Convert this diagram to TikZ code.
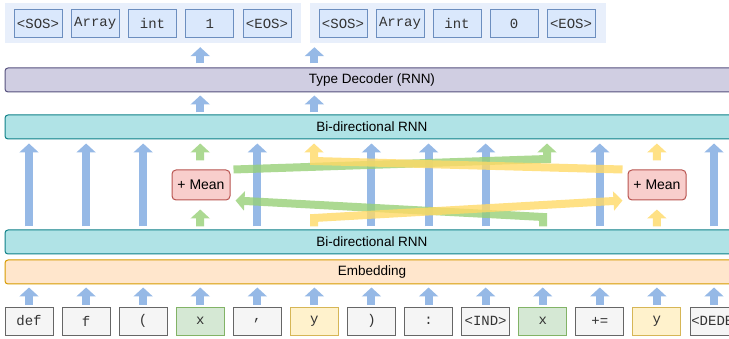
\documentclass[tikz,border=0pt]{standalone}
\usepackage{fontspec}
\setmainfont{Liberation Sans}
\newfontfamily\tokfamily{Liberation Mono}
\usetikzlibrary{arrows.meta}
\definecolor{ArrowBlue}{RGB}{150, 185, 230}
\definecolor{ArrowGreen}{RGB}{151, 208, 119}
\definecolor{ArrowYellow}{RGB}{255, 217, 102}
\definecolor{DecFill}{RGB}{208, 206, 226}
\definecolor{DecLine}{RGB}{86, 81, 126}
\definecolor{RnnFill}{RGB}{176, 227, 230}
\definecolor{RnnLine}{RGB}{14, 128, 136}
\definecolor{EmbFill}{RGB}{255, 230, 204}
\definecolor{EmbLine}{RGB}{215, 155, 0}
\definecolor{MeanFill}{RGB}{248, 206, 204}
\definecolor{MeanLine}{RGB}{184, 84, 80}
\definecolor{GrayFill}{RGB}{245, 245, 245}
\definecolor{GrayLine}{RGB}{102, 102, 102}
\definecolor{GreenFill}{RGB}{213, 232, 212}
\definecolor{GreenLine}{RGB}{130, 179, 102}
\definecolor{YelFill}{RGB}{255, 242, 204}
\definecolor{YelLine}{RGB}{214, 182, 86}
\definecolor{OutFill}{RGB}{218, 232, 252}
\definecolor{OutLine}{RGB}{108, 142, 191}
\definecolor{OutBack}{RGB}{232, 239, 251}
\tikzset{
	layer/.style={draw, line width=1pt, rounded corners=3pt, minimum width=734pt, minimum height=24pt, inner sep=0pt, font=\fontsize{13.5}{16}\selectfont},
	tokfont/.style={font=\tokfamily\fontsize{14}{16}\selectfont, text=black!80},
	tokbox/.style={draw, line width=0.8pt, minimum width=48pt, minimum height=28pt, inner sep=0pt, tokfont},
	tokgray/.style={tokbox, fill=GrayFill, draw=GrayLine},
	tokgreen/.style={tokbox, fill=GreenFill, draw=GreenLine},
	tokyel/.style={tokbox, fill=YelFill, draw=YelLine},
	outbox/.style={tokbox, fill=OutFill, draw=OutLine},
	outback/.style={fill=OutBack, minimum width=296pt, minimum height=40pt, inner sep=0pt},
	meanbox/.style={draw=MeanLine, fill=MeanFill, line width=1pt, rounded corners=4pt, minimum width=58pt, minimum height=30pt, inner sep=0pt, font=\fontsize{14}{16}\selectfont},
	fat/.style={line width=8pt, -{Triangle[width=19pt, length=9pt]}},
}

\begin{document}
\begin{tikzpicture}[x=1pt, y=-1pt]
	\useasboundingbox (0, 0) rectangle (729, 339);
	\clip (0, 0) rectangle (729, 339);

	\node[outback] (outA) at (153, 23) {};
	\node[outback] (outB) at (458, 23) {};
	\foreach \txt [count=\i] in {<SOS>, Array, int, 1, <EOS>}
		\node[outbox] (oa\i) at ({38+57.25*(\i-1)}, 23.5) {\txt};
	\foreach \txt [count=\i] in {<SOS>, Array, int, 0, <EOS>}
		\node[outbox] (ob\i) at ({343+57*(\i-1)}, 23.5) {\txt};

	\node[layer, fill=DecFill, draw=DecLine] (dec) at (372, 80) {Type Decoder (RNN)};
	\node[layer, fill=RnnFill, draw=RnnLine] (rnnB) at (372, 127) {Bi-directional RNN};
	\node[layer, fill=RnnFill, draw=RnnLine] (rnnA) at (372, 242) {Bi-directional RNN};
	\node[layer, fill=EmbFill, draw=EmbLine] (emb) at (372, 272) {Embedding};

	\foreach \txt/\sty [count=\i] in {def/tokgray, f/tokgray, {(}/tokgray, x/tokgreen, {,}/tokgray, y/tokyel, {)}/tokgray, :/tokgray, <IND>/tokgray, x/tokgreen, +=/tokgray, y/tokyel}
		\node[\sty] (t\i) at ({29+57.08*(\i-1)}, 321) {\txt};
	\node[tokgray] (t13) at (714, 321) {};
	\node[tokfont, anchor=west, inner sep=1.5pt] (t13txt) at (t13.west) {<DEDENT>};

	\node[meanbox] (meanL) at (201, 185) {+ Mean};
	\node[meanbox] (meanR) at (657, 185) {+ Mean};

	\foreach \i in {1,...,13}
		\draw[fat, ArrowBlue, shorten <=2pt, shorten >=3pt] (t\i.north) -- (t\i.north |- emb.south);
	\foreach \i in {1, 2, 3, 5, 7, 8, 9, 11, 13}
		\draw[fat, ArrowBlue, shorten <=3pt, shorten >=4pt] (t\i |- rnnA.north) -- (t\i |- rnnB.south);
	\draw[fat, ArrowBlue, shorten <=2pt, shorten >=3pt] (t4 |- rnnB.north) -- (t4 |- dec.south);
	\draw[fat, ArrowBlue, shorten <=2pt, shorten >=3pt] (t6 |- rnnB.north) -- (t6 |- dec.south);
	\draw[fat, ArrowBlue, shorten <=4pt, shorten >=4pt] (t4 |- dec.north) -- (t4 |- outA.south);
	\draw[fat, ArrowBlue, shorten <=4pt, shorten >=4pt] (t6 |- dec.north) -- (t6 |- outB.south);

	\coordinate (gTop) at (547, 159);
	\coordinate (gBot) at (543, 217);
	\coordinate (yTop) at (314, 161);
	\coordinate (yBot) at (314, 218);

	\begin{scope}[transparency group, opacity=0.8]
		\draw[fat, ArrowGreen, shorten <=3pt, shorten >=9pt] (t4 |- rnnA.north) -- (t4 |- meanL.south);
		\draw[fat, ArrowGreen, shorten <=9pt, shorten >=4pt] (t4 |- meanL.north) -- (t4 |- rnnB.south);
		\draw[fat, ArrowGreen, shorten >=4pt] ([xshift=3pt]meanL.north east) -- (gTop) -- (gTop |- rnnB.south);
		\draw[fat, ArrowGreen, shorten <=3pt] (gBot |- rnnA.north) -- (gBot) -- ([xshift=5pt]meanL.south east);
	\end{scope}
	\begin{scope}[transparency group, opacity=0.8]
		\draw[fat, ArrowYellow, shorten <=3pt, shorten >=9pt] (t12 |- rnnA.north) -- (t12 |- meanR.south);
		\draw[fat, ArrowYellow, shorten <=9pt, shorten >=4pt] (t12 |- meanR.north) -- (t12 |- rnnB.south);
		\draw[fat, ArrowYellow, shorten >=4pt] ([xshift=-5pt]meanR.north west) -- (yTop) -- (yTop |- rnnB.south);
		\draw[fat, ArrowYellow, shorten <=3pt] (yBot |- rnnA.north) -- (yBot) -- ([xshift=-5pt]meanR.south west);
	\end{scope}
\end{tikzpicture}
\end{document}
